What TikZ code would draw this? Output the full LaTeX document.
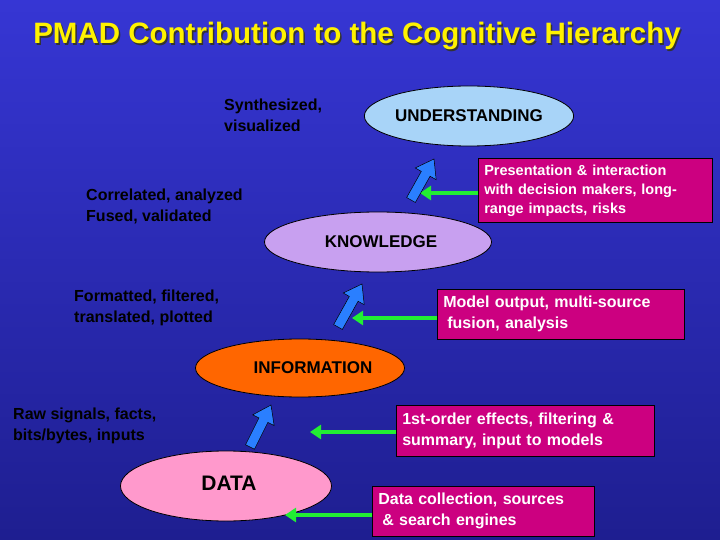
\documentclass[tikz,border=0pt]{standalone}
\usepackage{fontspec}
\setmainfont{Liberation Sans}
\usetikzlibrary{shapes.geometric,arrows.meta,calc}
\definecolor{bgtop}{HTML}{3636D4}
\definecolor{bgbot}{HTML}{1E1E90}
\definecolor{mag}{HTML}{CC0080}
\definecolor{gr}{HTML}{22EE33}
\definecolor{bl}{HTML}{2A7FFF}
\tikzset{
 ell/.style={ellipse,draw=black,line width=0.8pt,inner sep=0pt,font=\fontsize{17}{19}\selectfont\bfseries},
 box/.style={rectangle,draw=black,line width=0.6pt,fill=mag,anchor=north west,align=left,text=white,
   font=\fontsize{16}{21}\selectfont\bfseries,inner xsep=6pt,inner ysep=4pt},
 lab/.style={anchor=north west,align=left,text=black,font=\fontsize{16}{21}\selectfont\bfseries,inner sep=0pt},
 garrow/.style={draw=gr,line width=3.5pt,-{Triangle[length=11pt,width=14pt]}},
 barrow/.style={draw=black,line width=0.5pt,fill=bl}
}
\newcommand\blockarr[2]{%
 \path ($(#2)!17pt!(#1)$) coordinate (#1n);
 \draw[barrow] ($(#1)!5pt!90:(#2)$) -- ($(#1n)!5pt!-90:(#1)$) -- ($(#1n)!12pt!-90:(#1)$) -- (#2)
   -- ($(#1n)!12pt!90:(#1)$) -- ($(#1n)!5pt!90:(#1)$) -- ($(#1)!5pt!-90:(#2)$) -- cycle;}
\begin{document}
\begin{tikzpicture}[x=1pt,y=-1pt]
\useasboundingbox (0,0) rectangle (720,540);
\shade[top color=bgtop,bottom color=bgbot] (0,0) rectangle (720,540);
\node[text=black!80,font=\fontsize{29.5}{31}\selectfont\bfseries] at (358.5,37.5) {PMAD Contribution to the Cognitive Hierarchy};
\node (title) [text=yellow,font=\fontsize{29.5}{31}\selectfont\bfseries] at (357,36) {PMAD Contribution to the Cognitive Hierarchy};

\node (und) [ell,fill={rgb,255:red,168;green,212;blue,248},minimum width=190pt,minimum height=60pt] at (469,116) {UNDERSTANDING};
\node (kno) [ell,fill={rgb,255:red,200;green,160;blue,240},minimum width=227pt,minimum height=60pt] at (378,242) {};
\node (knol) at (381,242) {\fontsize{17}{19}\selectfont\bfseries KNOWLEDGE};
\node (inf) [ell,fill={rgb,255:red,255;green,102;blue,0},minimum width=209pt,minimum height=58pt] at (300,368) {};
\node (infl) at (313,368) {\fontsize{17}{19}\selectfont\bfseries INFORMATION};
\node (dat) [ell,fill={rgb,255:red,255;green,153;blue,204},minimum width=211pt,minimum height=70pt] at (226,486) {};
\node (datl) at (229,483) {\fontsize{21}{23}\selectfont\bfseries DATA};

\node (l1) [lab] at (224,99) {Synthesized,\\visualized};
\node (l2) [lab] at (86,189) {Correlated, analyzed\\Fused, validated};
\node (l3) [lab] at (74,290) {Formatted, filtered,\\translated, plotted};
\node (l4) [lab] at (13,408) {Raw signals, facts,\\bits/bytes, inputs};

\node (b1) [box,text width=222pt,minimum height=64pt,font=\fontsize{14.5}{19}\selectfont\bfseries] at (478,158) {Presentation \& interaction\\with decision makers, long-\\range impacts, risks};
\node (b2) [box,text width=235pt,minimum height=50pt] at (437,289) {Model output, multi-source\\\hspace*{4pt}fusion, analysis};
\node (b3) [box,text width=246pt,minimum height=51pt] at (396,405) {1st-order effects, filtering \&\\summary, input to models};
\node (b4) [box,text width=210pt,minimum height=50pt] at (372,486) {Data collection, sources\\\hspace*{4pt}\& search engines};

\coordinate (g1) at (420,193);
\coordinate (g2) at (352,318);
\coordinate (g3) at (310,432);
\coordinate (g4) at (285,515);
\draw[garrow] (b1.west |- g1) -- (g1);
\draw[garrow] (b2.west |- g2) -- (g2);
\draw[garrow] (b3.west |- g3) -- (g3);
\draw[garrow] (b4.west |- g4) -- (g4);

\coordinate (t1) at (411,200); \coordinate (h1) at (434,159);
\coordinate (t2) at (338,327); \coordinate (h2) at (362,284);
\coordinate (t3) at (250,447); \coordinate (h3) at (271,405);
\blockarr{t1}{h1}
\blockarr{t2}{h2}
\blockarr{t3}{h3}
\end{tikzpicture}
\end{document}
